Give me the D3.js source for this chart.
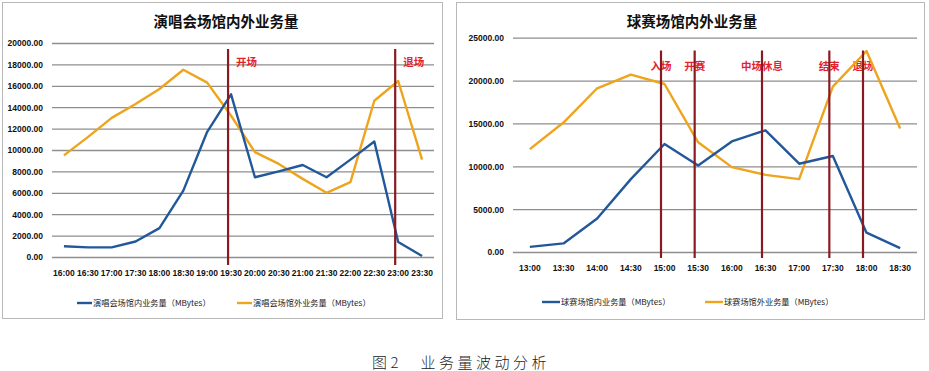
<!DOCTYPE html>
<html><head><meta charset="utf-8">
<script src="https://cdn.jsdelivr.net/npm/d3@7"></script>
<style>
html,body{margin:0;padding:0;background:#fff;}
svg{display:block;}
</style></head>
<body>
<svg id="c" width="929" height="371"></svg>
<script>
// ---------- data ----------
const leftTitle = "演唱会场馆内外业务量";
const leftCats = ["16:00","16:30","17:00","17:30","18:00","18:30","19:00","19:30","20:00","20:30","21:00","21:30","22:00","22:30","23:00","23:30"];
const leftInner = [1000, 900, 900, 1450, 2700, 6200, 11700, 15200, 7450, 8000, 8600, 7450, 9100, 10800, 1400, 100];
const leftOuter = [9500, 11200, 13000, 14300, 15700, 17500, 16300, 13200, 9800, 8700, 7300, 6000, 7000, 14600, 16450, 9100];
const leftTicks = [0, 2000, 4000, 6000, 8000, 10000, 12000, 14000, 16000, 18000, 20000];
const leftMarkerTimes = ["19:30", "23:00"];
const leftMarkerLabels = ["开场", "退场"];
const leftLegend = ["演唱会场馆内业务量（MBytes）", "演唱会场馆外业务量（MBytes）"];

const rightTitle = "球赛场馆内外业务量";
const rightCats = ["13:00","13:30","14:00","14:30","15:00","15:30","16:00","16:30","17:00","17:30","18:00","18:30"];
const rightInner = [600, 1000, 3900, 8500, 12600, 10100, 12900, 14200, 10300, 11200, 2250, 450];
const rightOuter = [12000, 15100, 19100, 20700, 19600, 12800, 9900, 9000, 8500, 19300, 23450, 14400];
const rightTicks = [0, 5000, 10000, 15000, 20000, 25000];
const rightMarkerTimes = ["15:00", "15:30", "16:30", "17:30", "18:00"];
const rightMarkerLabels = ["入场", "开赛", "中场休息", "结束", "退场"];
const rightLegend = ["球赛场馆内业务量（MBytes）", "球赛场馆外业务量（MBytes）"];

const caption = "图2　业务量波动分析";

// ---------- style ----------
const BLUE = "#22589a", ORANGE = "#eea41c", DARKRED = "#8a1a22", LABELRED = "#e3222c", GRID = "#8e8e8e";
const CJK = "'Noto Sans CJK SC','Noto Sans',sans-serif";
const NUM = "'Liberation Sans',Arial,sans-serif";

const svg = d3.select("#c");

function drawChart(cfg) {
  const g = svg.append("g");
  // frame
  g.append("rect").attr("x", cfg.frame[0] + 0.5).attr("y", cfg.frame[1] + 0.5)
    .attr("width", cfg.frame[2] - cfg.frame[0]).attr("height", cfg.frame[3] - cfg.frame[1])
    .attr("fill", "#fff").attr("stroke", "#b8b8b8").attr("stroke-width", 1);

  const x = d3.scaleBand().domain(cfg.cats).range([cfg.plot.x0, cfg.plot.x1]).padding(0);
  const cx = d => x(d) + x.bandwidth() / 2;
  const y = d3.scaleLinear().domain([0, cfg.ticks[cfg.ticks.length - 1]]).range([cfg.plot.y0, cfg.plot.y1]);

  // grid
  const yAxis = d3.axisLeft(y).tickValues(cfg.ticks).tickSize(-(cfg.plot.x1 - cfg.plot.x0))
    .tickPadding(9).tickFormat(d3.format(".2f"));
  const ya = g.append("g").attr("transform", `translate(${cfg.plot.x0},0)`).call(yAxis);
  ya.select(".domain").remove();
  ya.selectAll(".tick line").attr("stroke", GRID).attr("stroke-width", 1.3);
  ya.selectAll(".tick text").attr("font-family", NUM).attr("font-weight", "bold")
    .attr("font-size", 8.5).attr("fill", "#111").attr("dy", "0.34em");

  // x axis labels
  const xAxis = d3.axisBottom(x).tickSize(0).tickPadding(cfg.xLabelPad);
  const xa = g.append("g").attr("transform", `translate(0,${cfg.plot.y0})`).call(xAxis);
  xa.select(".domain").remove();
  xa.selectAll(".tick text").attr("font-family", NUM).attr("font-weight", "bold")
    .attr("font-size", 8.5).attr("fill", "#111");

  // title
  g.append("text").attr("x", cfg.titleX).attr("y", cfg.titleY).attr("text-anchor", "middle")
    .attr("font-family", CJK).attr("font-weight", "bold").attr("font-size", 14.5).attr("fill", "#111")
    .text(cfg.title);

  // marker labels
  g.selectAll(".mlab").data(cfg.markerTimes).enter().append("text")
    .attr("x", (d, i) => cx(d) + cfg.markerNudge + cfg.labelDx)
    .attr("y", cfg.labelY)
    .attr("text-anchor", cfg.labelAnchor)
    .attr("font-family", CJK).attr("font-weight", "bold").attr("font-size", 10.5)
    .attr("fill", LABELRED)
    .text((d, i) => cfg.markerLabels[i]);

  // lines
  const line = d3.line().x((d, i) => cx(cfg.cats[i])).y(d => y(d));
  g.append("path").datum(cfg.outer).attr("d", line).attr("fill", "none")
    .attr("stroke", ORANGE).attr("stroke-width", 2.4).attr("stroke-linejoin", "round");
  g.append("path").datum(cfg.inner).attr("d", line).attr("fill", "none")
    .attr("stroke", BLUE).attr("stroke-width", 2.4).attr("stroke-linejoin", "round");

  // marker lines
  g.selectAll(".mline").data(cfg.markerTimes).enter().append("line")
    .attr("x1", d => cx(d) + cfg.markerNudge).attr("x2", d => cx(d) + cfg.markerNudge)
    .attr("y1", cfg.markerTop).attr("y2", cfg.markerBottom)
    .attr("stroke", DARKRED).attr("stroke-width", 2.2);

  // legend
  const colors = [BLUE, ORANGE];
  cfg.legend.forEach((t, i) => {
    const lx = cfg.legendX[i];
    g.append("line").attr("x1", lx).attr("x2", lx + cfg.legendLen)
      .attr("y1", cfg.legendY).attr("y2", cfg.legendY)
      .attr("stroke", colors[i]).attr("stroke-width", 2.4);
    g.append("text").attr("x", lx + cfg.legendLen + 1).attr("y", cfg.legendY).attr("dy", "0.35em")
      .attr("font-family", CJK).attr("font-size", 8.2).attr("fill", "#222").text(t);
  });
}

drawChart({
  frame: [2, 2, 442, 318],
  plot: { x0: 52, x1: 434, y0: 257, y1: 43 },
  cats: leftCats, inner: leftInner, outer: leftOuter, ticks: leftTicks,
  title: leftTitle, titleX: 226, titleY: 27,
  xLabelPad: 13,
  markerTimes: leftMarkerTimes, markerLabels: leftMarkerLabels,
  markerNudge: -3, markerTop: 49, markerBottom: 265,
  labelDx: 8, labelAnchor: "start", labelY: 66,
  legend: leftLegend, legendX: [77, 237], legendLen: 15, legendY: 303
});

drawChart({
  frame: [456, 2, 924, 319],
  plot: { x0: 513, x1: 917, y0: 252, y1: 37.7 },
  cats: rightCats, inner: rightInner, outer: rightOuter, ticks: rightTicks,
  title: rightTitle, titleX: 692, titleY: 27,
  xLabelPad: 13,
  markerTimes: rightMarkerTimes, markerLabels: rightMarkerLabels,
  markerNudge: -3.5, markerTop: 50.5, markerBottom: 258,
  labelDx: 0, labelAnchor: "middle", labelY: 70,
  legend: rightLegend, legendX: [542, 705], legendLen: 18, legendY: 302
});

svg.append("text").attr("x", 461).attr("y", 368).attr("text-anchor", "middle")
  .attr("font-family", CJK).attr("font-weight", 300).attr("font-size", 15)
  .attr("letter-spacing", 3.5).attr("fill", "#222").text(caption);
</script>
</body></html>
